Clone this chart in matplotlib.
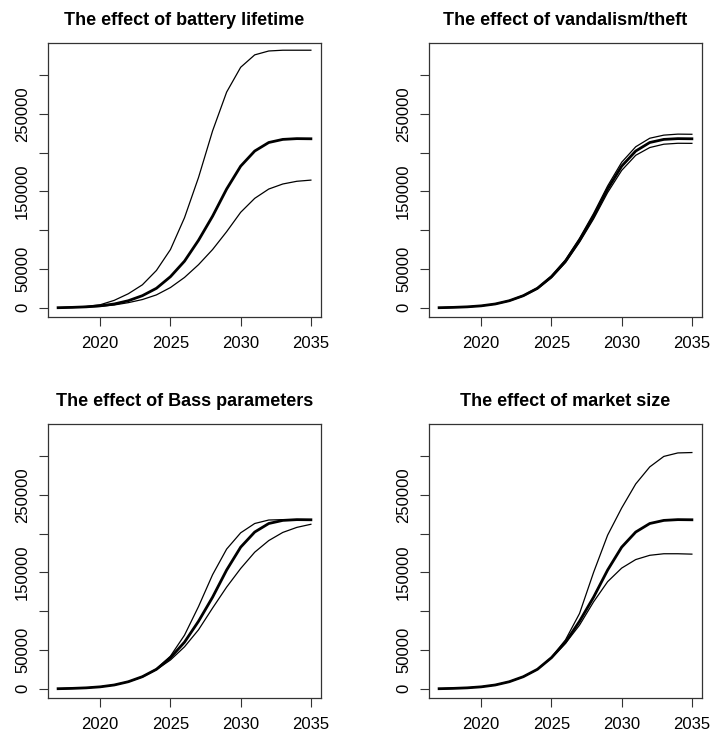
import numpy as np
from matplotlib import pyplot as plt

plt.rcParams['font.family'] = ['Liberation Sans', 'DejaVu Sans']

# yearly model output, 2017 - 2035
years = np.arange(2017, 2036)

# baseline scenario (thick line, same in every panel)
base = [0, 400, 1100, 2400, 4800, 9000, 15500, 25000, 40000, 60000,
        87000, 118000, 153000, 182500, 202000, 213000, 217000, 218000, 217800]

# battery lifetime
battery_high = [0, 600, 1600, 3800, 9500, 18000, 29500, 48000, 75000, 116000,
                168000, 228000, 278000, 310000, 326000, 331000, 332000, 332000, 332000]
battery_low = [0, 300, 800, 1700, 3500, 6500, 10500, 16500, 26000, 39000,
               55500, 75000, 98000, 123000, 141000, 153000, 159500, 163000, 164500]

# vandalism / theft
vand_high = [0, 400, 1100, 2500, 4900, 9200, 16000, 25700, 40800, 61800,
             89500, 121500, 157000, 187500, 207500, 218500, 222500, 223800, 223600]
vand_low = [0, 400, 1000, 2300, 4600, 8700, 15000, 24200, 38500, 58200,
            84500, 114500, 148500, 177000, 196500, 206500, 210800, 212000, 211900]

# Bass parameters
bass_fast = [0, 400, 1100, 2400, 4800, 9000, 15500, 25500, 42000, 69000,
             106000, 147000, 180000, 201000, 213000, 217500, 218000, 218000, 217800]
bass_slow = [0, 400, 1100, 2400, 4800, 9000, 15000, 24500, 37000, 54000,
             76000, 104000, 131000, 155000, 176000, 191000, 201500, 208000, 212000]

# market size
market_high = [0, 400, 1100, 2400, 4800, 9000, 15500, 25000, 40500, 63000,
               97000, 150000, 198000, 233000, 264000, 286000, 299500, 304000, 304500]
market_low = [0, 400, 1100, 2400, 4800, 9000, 15500, 25000, 39500, 58500,
              82000, 112000, 138000, 155500, 166500, 172000, 174000, 174000, 173500]

titles = ["The effect of battery lifetime", "The effect of vandalism/theft",
          "The effect of Bass parameters", "The effect of market size"]
variants = [(battery_high, battery_low), (vand_high, vand_low),
            (bass_fast, bass_slow), (market_high, market_low)]

y_ticks = [0, 50000, 100000, 150000, 200000, 250000, 300000]
y_labels = ["0", "50000", "", "150000", "", "250000", ""]
x_ticks = [2020, 2025, 2030, 2035]

fig = plt.figure(figsize=(7.1, 7.37), dpi=100)

# axes boxes in pixels: left, top
boxes = [(48, 43), (429, 43), (48, 424), (429, 424)]
W, H = 710.0, 737.0
bw, bh = 273, 274

for i in range(4):
    left, top = boxes[i]
    ax = fig.add_axes([left / W, 1 - (top + bh) / H, bw / W, bh / H])

    hi, lo = variants[i]
    ax.plot(years, hi, color='black', lw=0.9)
    ax.plot(years, lo, color='black', lw=0.9)
    ax.plot(years, base, color='black', lw=2.0)

    ax.set_xlim(2016.28, 2035.72)
    ax.set_ylim(-12000, 341300)
    ax.set_xticks(x_ticks)
    ax.set_yticks(y_ticks)
    ax.set_yticklabels(y_labels)

    ax.tick_params(axis='both', labelsize=12, length=6.5, width=0.8,
                   color='#333333')
    ax.tick_params(axis='x', pad=7)
    ax.tick_params(axis='y', pad=6.5, labelrotation=90)
    for lab in ax.get_yticklabels():
        lab.set_verticalalignment('center')
    for s in ax.spines.values():
        s.set_color('#333333')
        s.set_linewidth(0.9)

    ax.set_title(titles[i], fontsize=13, fontweight='bold', pad=13)

fig.savefig("out.png", dpi=100)
